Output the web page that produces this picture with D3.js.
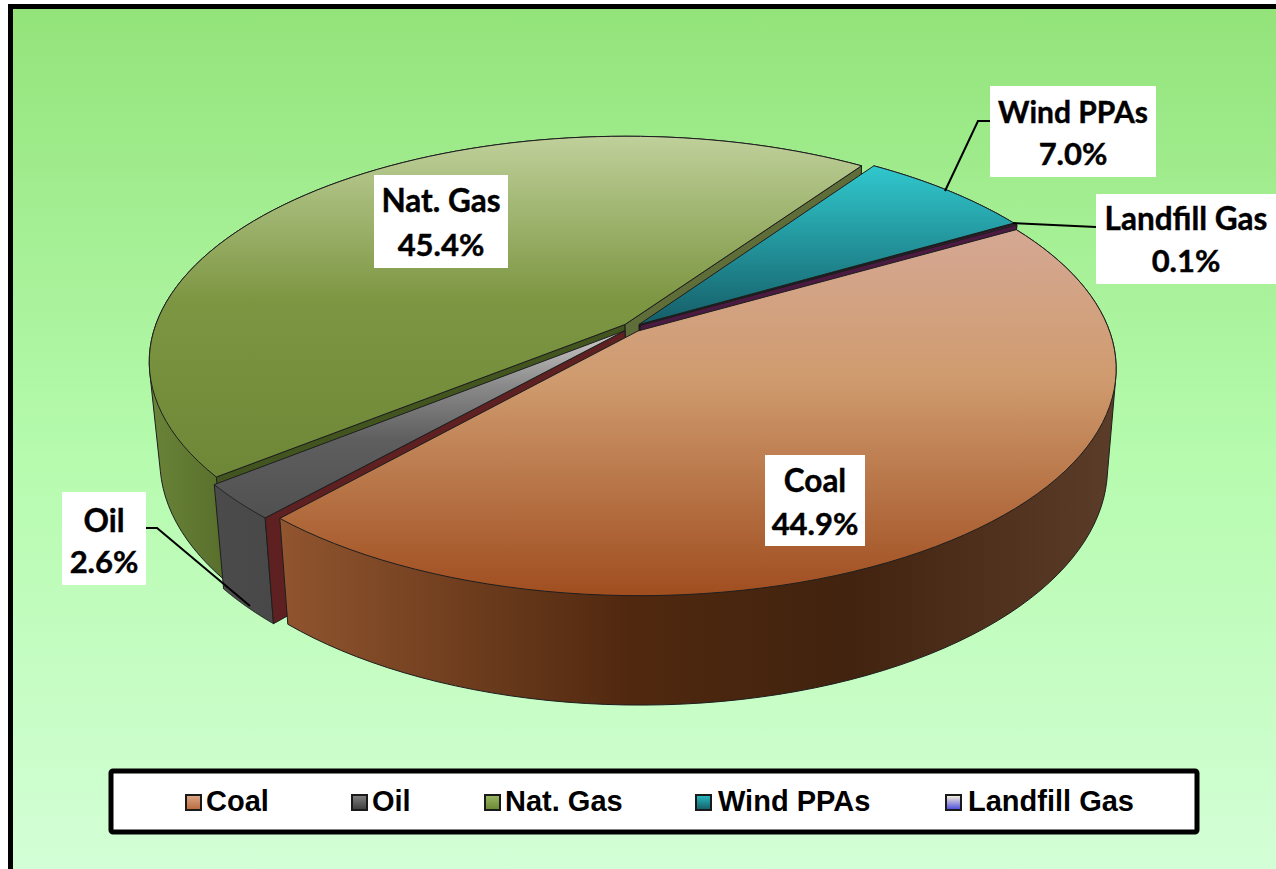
<!DOCTYPE html>
<html>
<head>
<meta charset="utf-8">
<script src="https://cdn.jsdelivr.net/npm/d3@7/dist/d3.min.js"></script>
<style>
html, body { margin: 0; padding: 0; background: #fff; overflow: hidden; }
svg { display: block; }
.lbl { font-family: Lato, sans-serif; font-weight: 700; fill: #000; stroke: #000; stroke-width: 0.4px; text-anchor: middle; }
.leg { font-family: "Liberation Sans", Arial, sans-serif; font-weight: 700; font-size: 29px; fill: #000; }
</style>
</head>
<body>
<svg id="graph"></svg>
<script>
/* data */
var categories = ["Coal", "Oil", "Nat. Gas", "Wind PPAs", "Landfill Gas"];
var shares = [44.9, 2.6, 45.4, 7.0, 0.1];

/* colours, same order as categories */
var topStops = [
    [[230, "#d5a894"], [380, "#cf9b6e"], [595, "#a04e20"]],
    [[330, "#d0cccc"], [385, "#8a8a8a"], [440, "#5e5e5e"], [520, "#505050"]],
    [[137, "#bfd09a"], [300, "#7d9642"], [480, "#6e8737"]],
    [[166, "#30c8cd"], [330, "#145a64"]],
    [[222, "#5a2450"], [330, "#4a1a40"]]
];
var wallStops = [
    [[280, "#91552f"], [630, "#50280f"], [850, "#41230f"], [1110, "#5a3c28"]],
    [[215, "#4b4b4b"], [275, "#484848"]],
    [[149, "#6a8438"], [225, "#586f2c"]],
    [[870, "#0f5a60"], [1013, "#0f5a60"]],
    [[630, "#4a1a40"], [1013, "#4a1a40"]]
];
var startWallColor = ["#50280f", "#5e2020", "#43551f", "#0f5a60", "#4a1a40"];
var endWallColor = ["#50280f", "#484848", "#5f6d38", "#101018", "#4a1a40"];
var legendStops = [
    ["#dcaa88", "#b9693c"], ["#828282", "#3c3c3c"], ["#9bb964", "#698732"],
    ["#28bec3", "#145a64"], ["#fffadc", "#4646dc"]
];

var svg = d3.select("#graph").attr("width", 1276).attr("height", 869);
var defs = svg.append("defs");

function gradient(id, stops, x1, y1, x2, y2) {
    var g = defs.append("linearGradient").attr("id", id)
        .attr("gradientUnits", "userSpaceOnUse")
        .attr("x1", x1).attr("y1", y1).attr("x2", x2).attr("y2", y2);
    var span = d3.scaleLinear().domain([stops[0][0], stops[stops.length - 1][0]]).range([0, 1]);
    stops.forEach(function(s) {
        g.append("stop").attr("offset", span(s[0])).attr("stop-color", s[1]);
    });
}

/* background and frame */
var bg = defs.append("linearGradient").attr("id", "bg").attr("x1", 0).attr("y1", 0).attr("x2", 0).attr("y2", 1);
bg.append("stop").attr("offset", 0).attr("stop-color", "#93e37a");
bg.append("stop").attr("offset", 0.5).attr("stop-color", "#b6fbae");
bg.append("stop").attr("offset", 1).attr("stop-color", "#d6ffda");
svg.append("rect").attr("x", 10.5).attr("y", 6.5).attr("width", 1300).attr("height", 900)
    .attr("fill", "url(#bg)").attr("stroke", "#000").attr("stroke-width", 5);

/* perspective projection of the pie: unit disc -> screen, top and bottom face */
var k = 0.166;
var topFace = {cx: 632, y0: 327.5, R: 476, S: 222.7};
var botFace = {cx: 633, y0: 424.5, R: 466.5, S: 233};
function project(face, u, v) {
    var w = 1 - k * v;
    return [face.cx + face.R * u / w, face.y0 + face.S * v / w];
}

var explode = 0.02;
var radius = 0.988;
var startDeg = 60.3;
var pie = d3.pie().sort(null).value(function(d) { return d; })
    .startAngle(startDeg * Math.PI / 180)
    .endAngle((startDeg + 360) * Math.PI / 180);
var arcs = pie(shares);

var line = d3.line();
function rimAngles(a) {
    return d3.range(0, 81).map(function(i) { return a.startAngle + (a.endAngle - a.startAngle) * i / 80; });
}
function offset(a) {
    var mid = (a.startAngle + a.endAngle) / 2;
    return [explode * Math.sin(mid), -explode * Math.cos(mid)];
}
function rimPoints(face, a) {
    var o = offset(a);
    return rimAngles(a).map(function(t) {
        return project(face, o[0] + radius * Math.sin(t), o[1] - radius * Math.cos(t));
    });
}
function apex(face, a) {
    var o = offset(a);
    return project(face, o[0], o[1]);
}

arcs.forEach(function(a, i) {
    gradient("top" + i, topStops[i], 0, topStops[i][0][0], 0, topStops[i][topStops[i].length - 1][0]);
    gradient("wall" + i, wallStops[i], wallStops[i][0][0], 0, wallStops[i][wallStops[i].length - 1][0], 0);
});

/* painter's order, back to front */
var drawOrder = [2, 3, 4, 1, 0];
var edge = "#1e1e1e";
var pieG = svg.append("g").attr("stroke", edge).attr("stroke-width", 1).attr("stroke-linejoin", "round");
drawOrder.forEach(function(i) {
    var a = arcs[i];
    var topRim = rimPoints(topFace, a), botRim = rimPoints(botFace, a);
    var tA = apex(topFace, a), bA = apex(botFace, a);
    // outer wall: hull of both rims, so the straight side edges come out right
    pieG.append("path")
        .attr("d", line(d3.polygonHull(topRim.concat(botRim))) + "Z")
        .attr("fill", "url(#wall" + i + ")");
    // cut walls, only the ones facing the viewer
    if (topRim[0][0] < tA[0]) {
        pieG.append("path")
            .attr("d", line([tA, topRim[0], botRim[0], bA]) + "Z")
            .attr("fill", startWallColor[i]);
    }
    if (topRim[80][0] > tA[0]) {
        pieG.append("path")
            .attr("d", line([tA, topRim[80], botRim[80], bA]) + "Z")
            .attr("fill", endWallColor[i]);
    }
    // top face
    pieG.append("path")
        .attr("d", line([tA].concat(topRim)) + "Z")
        .attr("fill", "url(#top" + i + ")");
});

/* data labels */
var labelBoxes = [
    {x: 765, y: 455, w: 100, h: 91, line1: 37, line2: 80, size: 31.5},
    {x: 62, y: 492, w: 84, h: 93, line1: 40, line2: 81, size: 31.5},
    {x: 374, y: 175, w: 134, h: 93, line1: 37, line2: 81, size: 31.5},
    {x: 990, y: 86, w: 166, h: 91, line1: 37, line2: 79, size: 30},
    {x: 1096, y: 194, w: 180, h: 90, line1: 36, line2: 78, size: 31.5}
];
var leaders = [
    null,
    [[146, 528], [157, 528], [250, 606]],
    null,
    [[945, 191], [978, 121], [990, 121]],
    [[1013, 223], [1096, 227]]
];
leaders.forEach(function(l) {
    if (l) svg.append("path").attr("d", line(l)).attr("fill", "none").attr("stroke", "#000").attr("stroke-width", 2);
});
var fmt = d3.format(".1f");
categories.forEach(function(c, i) {
    var b = labelBoxes[i];
    svg.append("rect").attr("x", b.x).attr("y", b.y).attr("width", b.w).attr("height", b.h).attr("fill", "#fff");
    svg.append("text").attr("class", "lbl").attr("font-size", b.size).attr("x", b.x + b.w / 2).attr("y", b.y + b.line1).text(c);
    svg.append("text").attr("class", "lbl").attr("font-size", 31).attr("x", b.x + b.w / 2).attr("y", b.y + b.line2).text(fmt(shares[i]) + "%");
});

/* legend */
svg.append("rect").attr("x", 111).attr("y", 771).attr("width", 1086).attr("height", 61).attr("rx", 2)
    .attr("fill", "#fff").attr("stroke", "#000").attr("stroke-width", 5);
var legendX = [186, 352, 485, 696, 946];
var legendTextX = [206, 372, 505, 718, 968];
categories.forEach(function(c, i) {
    var lg = defs.append("linearGradient").attr("id", "leg" + i).attr("x1", 0).attr("y1", 0).attr("x2", 0).attr("y2", 1);
    lg.append("stop").attr("offset", 0).attr("stop-color", legendStops[i][0]);
    lg.append("stop").attr("offset", 1).attr("stop-color", legendStops[i][1]);
    svg.append("rect").attr("x", legendX[i]).attr("y", 795).attr("width", 15).attr("height", 15)
        .attr("fill", "url(#leg" + i + ")").attr("stroke", "#1a1a1a").attr("stroke-width", 2);
    svg.append("text").attr("class", "leg").attr("x", legendTextX[i]).attr("y", 811).text(c);
});
</script>
</body>
</html>
